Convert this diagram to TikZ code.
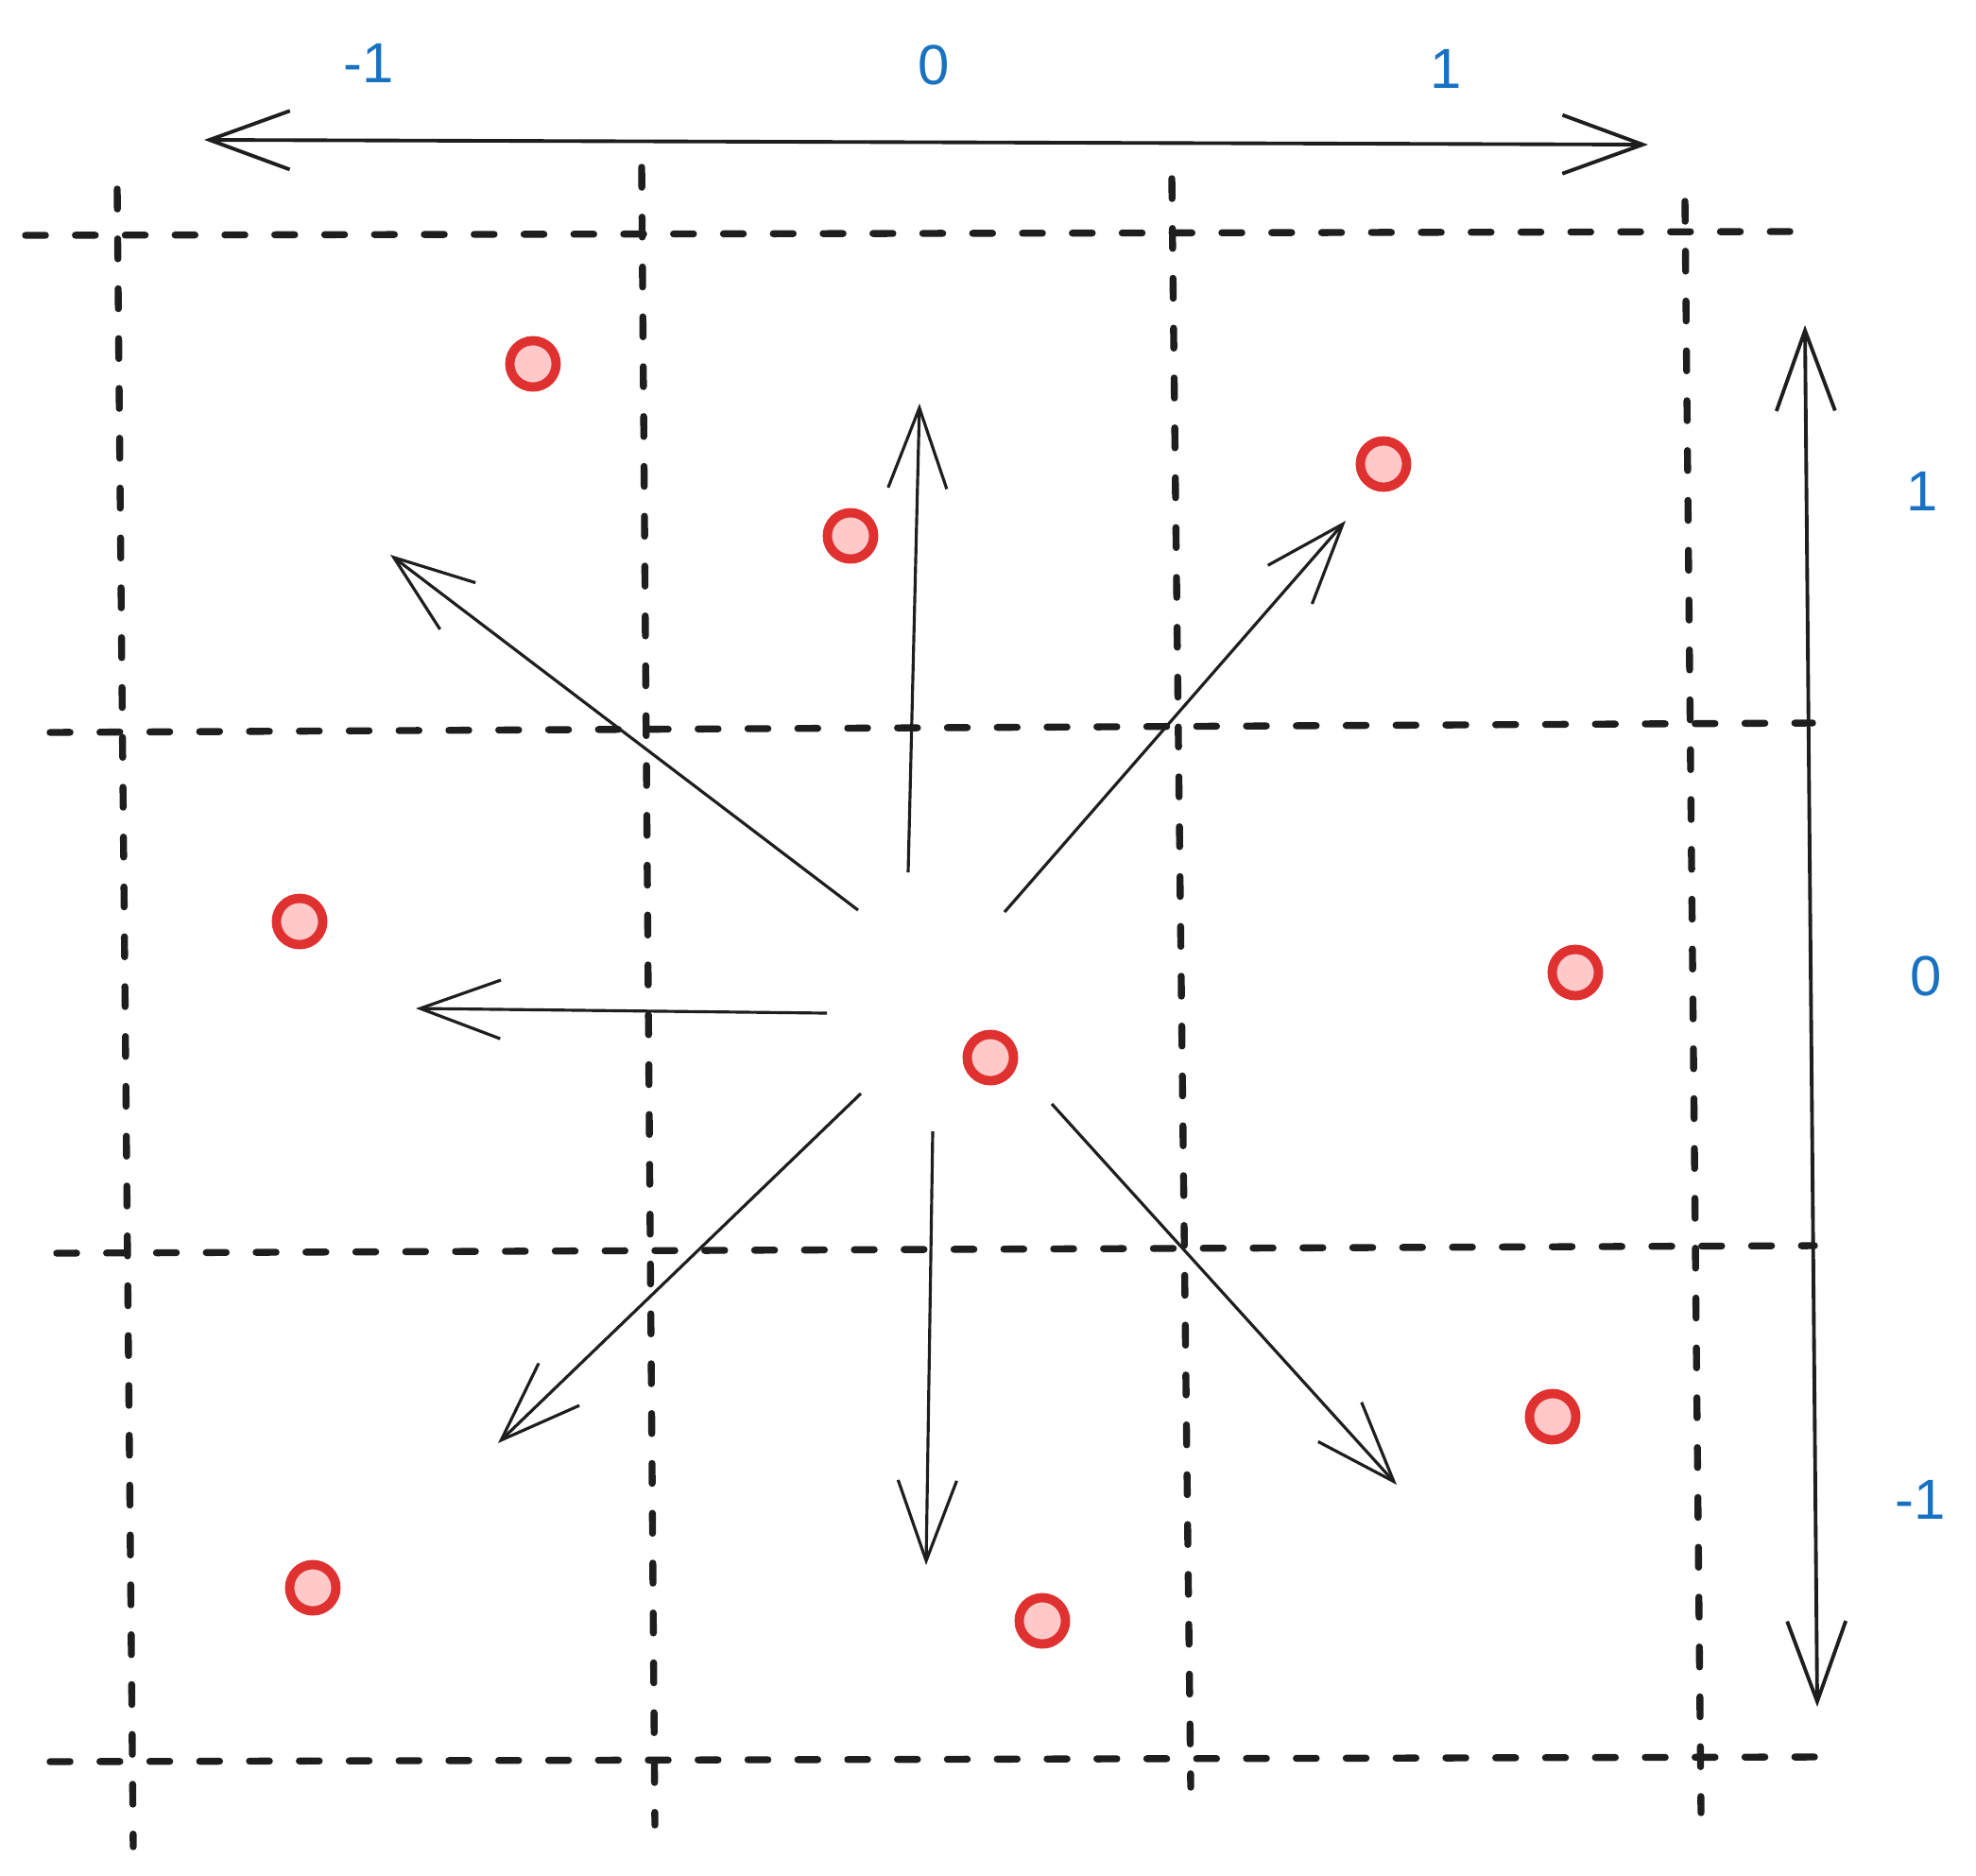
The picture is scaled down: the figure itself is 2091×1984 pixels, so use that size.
\documentclass[tikz,border=0pt]{standalone}
\usepackage{fontspec}
\setmainfont{Liberation Sans}
\usetikzlibrary{arrows.meta}
\definecolor{ink}{HTML}{1E1E1E}
\definecolor{dotred}{HTML}{E03131}
\definecolor{dotfill}{HTML}{FFC9C9}
\definecolor{labelblue}{HTML}{1971C2}

\begin{document}
\begin{tikzpicture}[
    x=0.01cm, y=-0.01cm,
    grid/.style={ink, line width=2.1pt, dash pattern=on 6pt off 9pt, line cap=round},
    axis/.style={ink, line width=1.1pt, {Straight Barb[length=0.85cm, width=0.62cm]}-{Straight Barb[length=0.85cm, width=0.62cm]}},
    arr/.style={ink, line width=0.9pt, -{Straight Barb[length=0.85cm, width=0.62cm]}},
    pt/.style={draw=dotred, fill=dotfill, circle, line width=2.8pt, minimum size=0.49cm, inner sep=0pt},
    lbl/.style={text=labelblue, font=\fontsize{17}{20}\selectfont},
]
\useasboundingbox (0,0) rectangle (2091,1984);

% Dashed grid
\draw[grid] (27,249) -- (1894,245);
\draw[grid] (53,775) -- (1918,765);
\draw[grid] (60,1326) -- (1920,1318);
\draw[grid] (53,1864) -- (1920,1859);
\draw[grid] (124,200) -- (141,1954);
\draw[grid] (679,177) -- (693,1931);
\draw[grid] (1240,189) -- (1260,1891);
\draw[grid] (1783,213) -- (1800,1918);

% Axes
\coordinate (xl) at (216,148);
\coordinate (xr) at (1744,153);
\coordinate (yt) at (1910,344);
\coordinate (yb) at (1923,1806);
\draw[axis] (xl) -- (xr);
\draw[axis] (yt) -- (yb);

% Axis labels
\node[lbl] (xm) at (390,67) {-1};
\node[lbl] (x0) at (988,69) {0};
\node[lbl] (xp) at (1530,73) {1};
\node[lbl] (yp) at (2034,520) {1};
\node[lbl] (y0) at (2038,1033) {0};
\node[lbl] (ym) at (2032,1587) {-1};

% Points
\node[pt] (p1) at (564,385) {};
\node[pt] (p2) at (900,567) {};
\node[pt] (p3) at (1464,491) {};
\node[pt] (p4) at (317,975) {};
\node[pt] (c) at (1048,1119) {};
\node[pt] (p6) at (1667,1029) {};
\node[pt] (p7) at (331,1680) {};
\node[pt] (p8) at (1103,1715) {};
\node[pt] (p9) at (1643,1499) {};

% Directions
\coordinate (s-n) at (961,923);   \coordinate (e-n) at (973,427);
\coordinate (s-nw) at (908,963);  \coordinate (e-nw) at (413,587);
\coordinate (s-ne) at (1063,965); \coordinate (e-ne) at (1424,551);
\coordinate (s-w) at (875,1072);  \coordinate (e-w) at (440,1067);
\coordinate (s-sw) at (911,1157); \coordinate (e-sw) at (527,1527);
\coordinate (s-s) at (987,1197);  \coordinate (e-s) at (980,1656);
\coordinate (s-se) at (1113,1168); \coordinate (e-se) at (1478,1571);
\draw[arr] (s-n) -- (e-n);
\draw[arr] (s-nw) -- (e-nw);
\draw[arr] (s-ne) -- (e-ne);
\draw[arr] (s-w) -- (e-w);
\draw[arr] (s-sw) -- (e-sw);
\draw[arr] (s-s) -- (e-s);
\draw[arr] (s-se) -- (e-se);

\end{tikzpicture}
\end{document}
